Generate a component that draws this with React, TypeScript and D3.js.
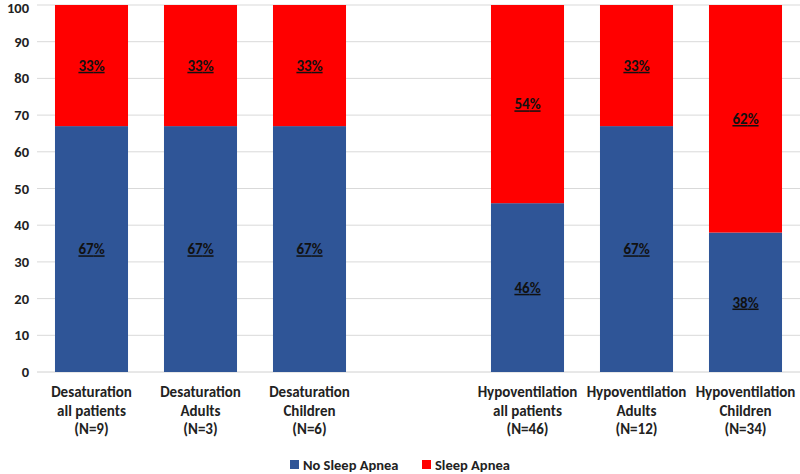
import React from "react";
import * as d3 from "d3";

const categories: string[][] = [
  ["Desaturation", "all patients", "(N=9)"],
  ["Desaturation", "Adults", "(N=3)"],
  ["Desaturation", "Children", "(N=6)"],
  ["", "", ""],
  ["Hypoventilation", "all patients", "(N=46)"],
  ["Hypoventilation", "Adults", "(N=12)"],
  ["Hypoventilation", "Children", "(N=34)"],
];
const noApnea: (number | null)[] = [67, 67, 67, null, 46, 67, 38];
const apnea: (number | null)[] = [33, 33, 33, null, 54, 33, 62];
const yTicks: number[] = [0, 10, 20, 30, 40, 50, 60, 70, 80, 90, 100];
const seriesNames = ["No Sleep Apnea", "Sleep Apnea"];
const colors = ["#2F5597", "#FF0000"];

export default function App() {
  const W = 800, H = 474;
  const left = 37, right = 800, top = 5, bottom = 372;
  const x = d3.scaleBand<number>().domain(d3.range(categories.length)).range([left, right]).paddingInner(0.33).paddingOuter(0.165);
  const y = d3.scaleLinear().domain([0, 100]).range([bottom, top]);
  const font = "Calibri, Carlito, 'Open Sans', 'Liberation Sans', sans-serif";
  return (
    <svg width={W} height={H} style={{ position: "absolute", left: 0, top: 0, fontFamily: font }}>
      <rect width={W} height={H} fill="#fff" />
      {yTicks.map((t) => (
        <g key={t}>
          <line x1={left} x2={right} y1={y(t)} y2={y(t)} stroke={t === 0 ? "#d0d0d0" : "#d9d9d9"} strokeWidth={1} />
          <text x={29} y={Math.max(y(t), 8)} dy="0.35em" textAnchor="end" fontSize={14.5} fontWeight="bold" fill="#222">{t}</text>
        </g>
      ))}
      {categories.map((c, i) => {
        const a = noApnea[i], b = apnea[i];
        const bx = x(i)!, bw = x.bandwidth();
        return (
          <g key={i}>
            {a != null && (
              <>
                <rect x={bx} y={y(a)} width={bw} height={y(0) - y(a)} fill={colors[0]} />
                <text x={bx + bw / 2} y={(y(0) + y(a)) / 2} dy="0.35em" textAnchor="middle" fontSize={15} fontWeight="bold" textDecoration="underline" fill="#111">{a}%</text>
              </>
            )}
            {a != null && b != null && (
              <>
                <rect x={bx} y={y(a + b)} width={bw} height={y(a) - y(a + b)} fill={colors[1]} />
                <text x={bx + bw / 2} y={(y(a) + y(a + b)) / 2} dy="0.35em" textAnchor="middle" fontSize={15} fontWeight="bold" textDecoration="underline" fill="#111">{b}%</text>
              </>
            )}
            {c.map((line, j) => (
              <text key={j} x={bx + bw / 2} y={392 + j * 18.5} dy="0.35em" textAnchor="middle" fontSize={15} fontWeight="bold" fill="#222">{line}</text>
            ))}
          </g>
        );
      })}
      <g>
        <rect x={290} y={460} width={9} height={9} fill={colors[0]} />
        <text x={303} y={464.5} dy="0.35em" fontSize={14.5} fontWeight="bold" fill="#222">{seriesNames[0]}</text>
        <rect x={422} y={460} width={9} height={9} fill={colors[1]} />
        <text x={435} y={464.5} dy="0.35em" fontSize={14.5} fontWeight="bold" fill="#222">{seriesNames[1]}</text>
      </g>
    </svg>
  );
}
